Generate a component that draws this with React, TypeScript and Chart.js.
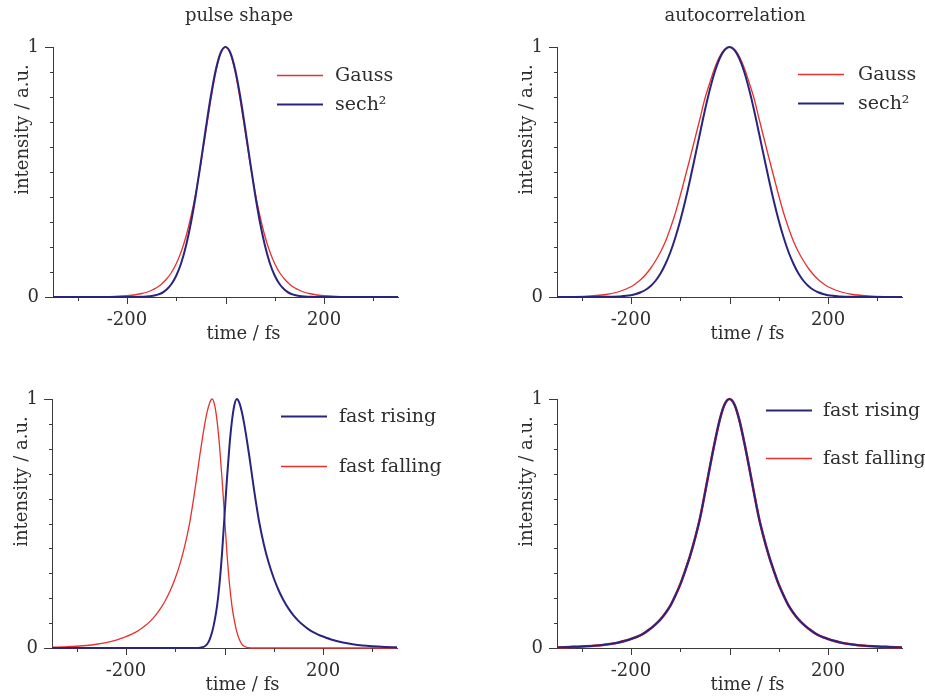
import React, { useEffect, useRef } from 'react';
import { Chart, registerables } from 'chart.js';

Chart.register(...registerables);

const FONT = '"DejaVu Serif", Georgia, serif';
const TEXT = '#2e2e2e';
const AXIS = '#3a3a3a';
const RED = '#e8302c';
const BLUE = '#29257f';

// ---------- axes ----------
const X_MIN = -350;
const X_MAX = 350;
const X_LABEL_TICKS = [-200, 200];
const X_MAJOR_TICKS = [-200, 0, 200];
const X_MINOR_TICKS = [-300, -100, 100, 300];
const Y_LABEL_TICKS = [0, 1];
const Y_MINOR_TICKS = [0.1, 0.2, 0.3, 0.4, 0.5, 0.6, 0.7, 0.8, 0.9];
const X_TITLE = 'time / fs';
const Y_TITLE = 'intensity / a.u.';

// ---------- top row: symmetric pulses ----------
const SYM_TIME = [
  -350, -300, -250, -225, -200, -190, -180, -170, -160, -150, -140, -130, -120, -110, -100, -90, -80, -70, -60, -50, -40, -30, -20, -10,
  0, 10, 20, 30, 40, 50, 60, 70, 80, 90, 100, 110, 120, 130, 140, 150, 160, 170, 180, 190, 200, 225, 250, 300, 350,
];

const PULSE_GAUSS = [
  0, 0.0002, 0.001, 0.0023, 0.005, 0.007, 0.01, 0.014, 0.019, 0.027, 0.037, 0.051, 0.071, 0.097, 0.133, 0.181, 0.243, 0.323, 0.42, 0.534, 0.66, 0.786, 0.897, 0.973,
  1, 0.973, 0.897, 0.786, 0.66, 0.534, 0.42, 0.323, 0.243, 0.181, 0.133, 0.097, 0.071, 0.051, 0.037, 0.027, 0.019, 0.014, 0.01, 0.007, 0.005, 0.0023, 0.001, 0.0002, 0,
];
const PULSE_SECH2 = [
  0, 0, 0, 0, 0, 0, 0, 0.001, 0.002, 0.004, 0.008, 0.015, 0.029, 0.051, 0.085, 0.135, 0.206, 0.298, 0.411, 0.54, 0.674, 0.801, 0.906, 0.976,
  1, 0.976, 0.906, 0.801, 0.674, 0.54, 0.411, 0.298, 0.206, 0.135, 0.085, 0.051, 0.029, 0.015, 0.008, 0.004, 0.002, 0.001, 0, 0, 0, 0, 0, 0, 0,
];

const AC_GAUSS = [
  0.0003, 0.002, 0.01, 0.021, 0.041, 0.054, 0.07, 0.09, 0.115, 0.145, 0.18, 0.222, 0.275, 0.335, 0.405, 0.48, 0.556, 0.634, 0.713, 0.793, 0.857, 0.916, 0.962, 0.99,
  1, 0.99, 0.962, 0.916, 0.857, 0.793, 0.713, 0.634, 0.556, 0.48, 0.405, 0.335, 0.275, 0.222, 0.18, 0.145, 0.115, 0.09, 0.07, 0.054, 0.041, 0.021, 0.01, 0.002, 0.0003,
];
const AC_SECH2 = [
  0, 0, 0.0006, 0.0022, 0.007, 0.012, 0.019, 0.029, 0.044, 0.065, 0.094, 0.132, 0.179, 0.237, 0.305, 0.383, 0.469, 0.561, 0.654, 0.746, 0.829, 0.9, 0.954, 0.988,
  1, 0.988, 0.954, 0.9, 0.829, 0.746, 0.654, 0.561, 0.469, 0.383, 0.305, 0.237, 0.179, 0.132, 0.094, 0.065, 0.044, 0.029, 0.019, 0.012, 0.007, 0.0022, 0.0006, 0, 0,
];

// ---------- bottom row: asymmetric pulses ----------
const ASYM_TIME = [
  -350, -325, -300, -280, -260, -240, -220, -200, -190, -180, -170, -160, -150, -140, -130, -120, -110, -100, -90, -80, -70, -60,
  -55, -50, -45, -40, -35, -30, -25, -20, -15, -10, -5, 0, 5, 10, 15, 20, 25, 30, 35, 40, 45, 50, 55,
  60, 70, 80, 90, 100, 110, 120, 130, 140, 150, 160, 170, 180, 190, 200, 220, 240, 260, 280, 300, 325, 350,
];

const PULSE_FAST_RISING = [
  0, 0, 0, 0, 0, 0, 0, 0, 0, 0, 0, 0, 0, 0, 0, 0, 0, 0, 0, 0, 0, 0,
  0, 0.001, 0.003, 0.007, 0.016, 0.035, 0.065, 0.11, 0.17, 0.26, 0.38, 0.53, 0.68, 0.81, 0.91, 0.975, 1, 0.985, 0.95, 0.9, 0.84, 0.775, 0.705,
  0.635, 0.51, 0.415, 0.34, 0.28, 0.231, 0.191, 0.158, 0.131, 0.109, 0.091, 0.076, 0.064, 0.054, 0.046, 0.032, 0.022, 0.015, 0.01, 0.007, 0.0045, 0.003,
];
const PULSE_FAST_FALLING = [
  0.003, 0.0045, 0.007, 0.01, 0.015, 0.022, 0.032, 0.046, 0.054, 0.064, 0.076, 0.091, 0.109, 0.131, 0.158, 0.191, 0.231, 0.28, 0.34, 0.415, 0.51, 0.635,
  0.705, 0.775, 0.84, 0.9, 0.95, 0.985, 1, 0.975, 0.91, 0.81, 0.68, 0.53, 0.38, 0.26, 0.17, 0.11, 0.065, 0.035, 0.016, 0.007, 0.003, 0.001, 0,
  0, 0, 0, 0, 0, 0, 0, 0, 0, 0, 0, 0, 0, 0, 0, 0, 0, 0, 0, 0, 0, 0,
];

const AC_TIME = [
  -350, -325, -300, -275, -250, -225, -200, -190, -180, -170, -160, -150, -140, -130, -120, -110, -100, -90, -80, -70, -60, -50, -40, -30, -20, -10,
  0, 10, 20, 30, 40, 50, 60, 70, 80, 90, 100, 110, 120, 130, 140, 150, 160, 170, 180, 190, 200, 225, 250, 275, 300, 325, 350,
];
const AC_FAST_RISING = [
  0.002, 0.004, 0.006, 0.009, 0.014, 0.022, 0.036, 0.043, 0.052, 0.064, 0.078, 0.095, 0.115, 0.14, 0.17, 0.21, 0.255, 0.31, 0.37, 0.44, 0.52, 0.62, 0.725, 0.825, 0.915, 0.978,
  1, 0.978, 0.915, 0.825, 0.725, 0.62, 0.52, 0.44, 0.37, 0.31, 0.255, 0.21, 0.17, 0.14, 0.115, 0.095, 0.078, 0.064, 0.052, 0.043, 0.036, 0.022, 0.014, 0.009, 0.006, 0.004, 0.002,
];
const AC_FAST_FALLING = [
  0.002, 0.004, 0.006, 0.009, 0.014, 0.022, 0.036, 0.043, 0.052, 0.064, 0.078, 0.095, 0.115, 0.14, 0.17, 0.21, 0.255, 0.31, 0.37, 0.44, 0.52, 0.62, 0.725, 0.825, 0.915, 0.978,
  1, 0.978, 0.915, 0.825, 0.725, 0.62, 0.52, 0.44, 0.37, 0.31, 0.255, 0.21, 0.17, 0.14, 0.115, 0.095, 0.078, 0.064, 0.052, 0.043, 0.036, 0.022, 0.014, 0.009, 0.006, 0.004, 0.002,
];

// ---------- panel configuration ----------
type Series = { label: string; time: number[]; values: number[]; color: string; width: number; order: number };
type Legend = { lineStart: number; lineEnd: number; textX: number; y1: number; gap: number };
type Panel = {
  box: { left: number; top: number; width: number; height: number };
  area: { left: number; right: number; top: number; bottom: number };
  title: string;
  titleDx: number;
  legend: Legend;
  series: Series[];
};

// area: space (in px) around the plotting area inside each panel's canvas
const PANELS: Panel[] = [
  {
    box: { left: 0, top: 0, width: 462, height: 348 },
    area: { left: 53, right: 64, top: 47, bottom: 51 },
    title: 'pulse shape',
    titleDx: 13.5,
    legend: { lineStart: -121, lineEnd: -75, textX: -63, y1: 28, gap: 29 },
    series: [
      { label: 'Gauss', time: SYM_TIME, values: PULSE_GAUSS, color: RED, width: 1.3, order: 2 },
      { label: 'sech\u00B2', time: SYM_TIME, values: PULSE_SECH2, color: BLUE, width: 2, order: 1 },
    ],
  },
  {
    box: { left: 462, top: 0, width: 463, height: 348 },
    area: { left: 95, right: 23, top: 47, bottom: 51 },
    title: 'autocorrelation',
    titleDx: 5.5,
    legend: { lineStart: -104, lineEnd: -58, textX: -44, y1: 27, gap: 29 },
    series: [
      { label: 'Gauss', time: SYM_TIME, values: AC_GAUSS, color: RED, width: 1.3, order: 2 },
      { label: 'sech\u00B2', time: SYM_TIME, values: AC_SECH2, color: BLUE, width: 2, order: 1 },
    ],
  },
  {
    box: { left: 0, top: 348, width: 462, height: 349 },
    area: { left: 52, right: 65, top: 51, bottom: 49 },
    title: '',
    titleDx: 0,
    legend: { lineStart: -116, lineEnd: -70, textX: -58, y1: 17, gap: 50 },
    series: [
      { label: 'fast rising', time: ASYM_TIME, values: PULSE_FAST_RISING, color: BLUE, width: 2, order: 1 },
      { label: 'fast falling', time: ASYM_TIME, values: PULSE_FAST_FALLING, color: RED, width: 1.3, order: 2 },
    ],
  },
  {
    box: { left: 462, top: 348, width: 463, height: 349 },
    area: { left: 95, right: 23, top: 51, bottom: 49 },
    title: '',
    titleDx: 0,
    legend: { lineStart: -136, lineEnd: -90, textX: -79, y1: 11, gap: 48 },
    series: [
      { label: 'fast rising', time: AC_TIME, values: AC_FAST_RISING, color: BLUE, width: 2, order: 1 },
      { label: 'fast falling', time: AC_TIME, values: AC_FAST_FALLING, color: RED, width: 2.6, order: 2 },
    ],
  },
];

function decorPlugin(panel: Panel) {
  return {
    id: 'decor',
    afterDraw(chart: any) {
      const { ctx, chartArea } = chart;
      const xs = chart.scales.x;
      const ys = chart.scales.y;
      const { left, right, top, bottom } = chartArea;
      ctx.save();
      // tick marks
      ctx.strokeStyle = AXIS;
      ctx.lineWidth = 1;
      ctx.beginPath();
      const xTick = (v: number, len: number) => {
        const px = Math.round(xs.getPixelForValue(v)) + 0.5;
        ctx.moveTo(px, Math.round(bottom));
        ctx.lineTo(px, Math.round(bottom) + len);
      };
      const yTick = (v: number, len: number) => {
        const py = Math.round(ys.getPixelForValue(v)) + 0.5;
        ctx.moveTo(Math.round(left) - len, py);
        ctx.lineTo(Math.round(left), py);
      };
      X_MAJOR_TICKS.forEach((v) => xTick(v, 7));
      X_MINOR_TICKS.forEach((v) => xTick(v, 4));
      Y_LABEL_TICKS.forEach((v) => yTick(v, 8));
      Y_MINOR_TICKS.forEach((v) => yTick(v, 3));
      ctx.stroke();

      ctx.fillStyle = TEXT;
      ctx.font = `18px ${FONT}`;
      ctx.textBaseline = 'alphabetic';
      // panel title
      if (panel.title) {
        ctx.textAlign = 'center';
        ctx.fillText(panel.title, (left + right) / 2 + panel.titleDx, top - 26);
      }
      // x title
      ctx.textAlign = 'center';
      ctx.fillText(X_TITLE, (left + right) / 2 + 18, bottom + 42);
      // y title
      ctx.save();
      ctx.translate(left - 25, top + 82.5);
      ctx.rotate(-Math.PI / 2);
      ctx.textAlign = 'center';
      ctx.fillText(Y_TITLE, 0, 0);
      ctx.restore();

      // legend
      const lg = panel.legend;
      panel.series.forEach((s, i) => {
        const y = Math.round(top + lg.y1 + i * lg.gap) + 0.5;
        ctx.strokeStyle = s.color;
        ctx.lineWidth = s.color === RED ? 1.3 : 2;
        ctx.beginPath();
        ctx.moveTo(right + lg.lineStart, y);
        ctx.lineTo(right + lg.lineEnd, y);
        ctx.stroke();
        ctx.fillStyle = TEXT;
        ctx.textAlign = 'left';
        ctx.font = `19px ${FONT}`;
        ctx.fillText(s.label, right + lg.textX, y + 5);
      });
      ctx.restore();
    },
  };
}

function PanelChart({ panel }: { panel: Panel }) {
  const ref = useRef<HTMLCanvasElement>(null);
  useEffect(() => {
    const canvas = ref.current;
    if (!canvas) return;
    const chart = new Chart(canvas, {
      type: 'line',
      data: {
        datasets: panel.series.map((s) => ({
          label: s.label,
          data: s.time.map((t, i) => ({ x: t, y: s.values[i] })),
          borderColor: s.color,
          backgroundColor: s.color,
          borderWidth: s.width,
          pointRadius: 0,
          cubicInterpolationMode: 'monotone' as const,
          fill: false,
          clip: false as any,
          order: s.order,
        })),
      },
      options: {
        responsive: false,
        animation: false,
        events: [],
        layout: { padding: { left: 0, bottom: 0, top: panel.area.top, right: panel.area.right } },
        plugins: {
          legend: { display: false },
          tooltip: { enabled: false },
          title: { display: false },
        },
        scales: {
          x: {
            type: 'linear',
            min: X_MIN,
            max: X_MAX,
            afterFit: (s: any) => {
              s.height = panel.area.bottom;
            },
            afterBuildTicks: (s: any) => {
              s.ticks = X_LABEL_TICKS.map((v) => ({ value: v }));
            },
            grid: { display: false, drawTicks: false },
            border: { display: true, color: AXIS, width: 1 },
            ticks: {
              color: TEXT,
              font: { family: FONT, size: 18 },
              padding: 13,
              maxRotation: 0,
              autoSkip: false,
              callback: (v: any) => String(v),
            },
          },
          y: {
            type: 'linear',
            min: 0,
            max: 1,
            afterFit: (s: any) => {
              s.width = panel.area.left;
            },
            afterBuildTicks: (s: any) => {
              s.ticks = Y_LABEL_TICKS.map((v) => ({ value: v }));
            },
            grid: { display: false, drawTicks: false },
            border: { display: true, color: AXIS, width: 1 },
            ticks: {
              color: TEXT,
              font: { family: FONT, size: 18 },
              padding: 14,
              autoSkip: false,
              callback: (v: any) => String(v),
            },
          },
        },
      },
      plugins: [decorPlugin(panel)],
    } as any);
    return () => chart.destroy();
  }, [panel]);
  return (
    <canvas
      ref={ref}
      width={panel.box.width}
      height={panel.box.height}
      style={{
        position: 'absolute',
        left: panel.box.left,
        top: panel.box.top,
        width: panel.box.width,
        height: panel.box.height,
      }}
    />
  );
}

export default function App() {
  return (
    <div style={{ position: 'absolute', left: 0, top: 0, width: 925, height: 697, background: '#ffffff', overflow: 'hidden' }}>
      {PANELS.map((p, i) => (
        <PanelChart key={i} panel={p} />
      ))}
    </div>
  );
}
